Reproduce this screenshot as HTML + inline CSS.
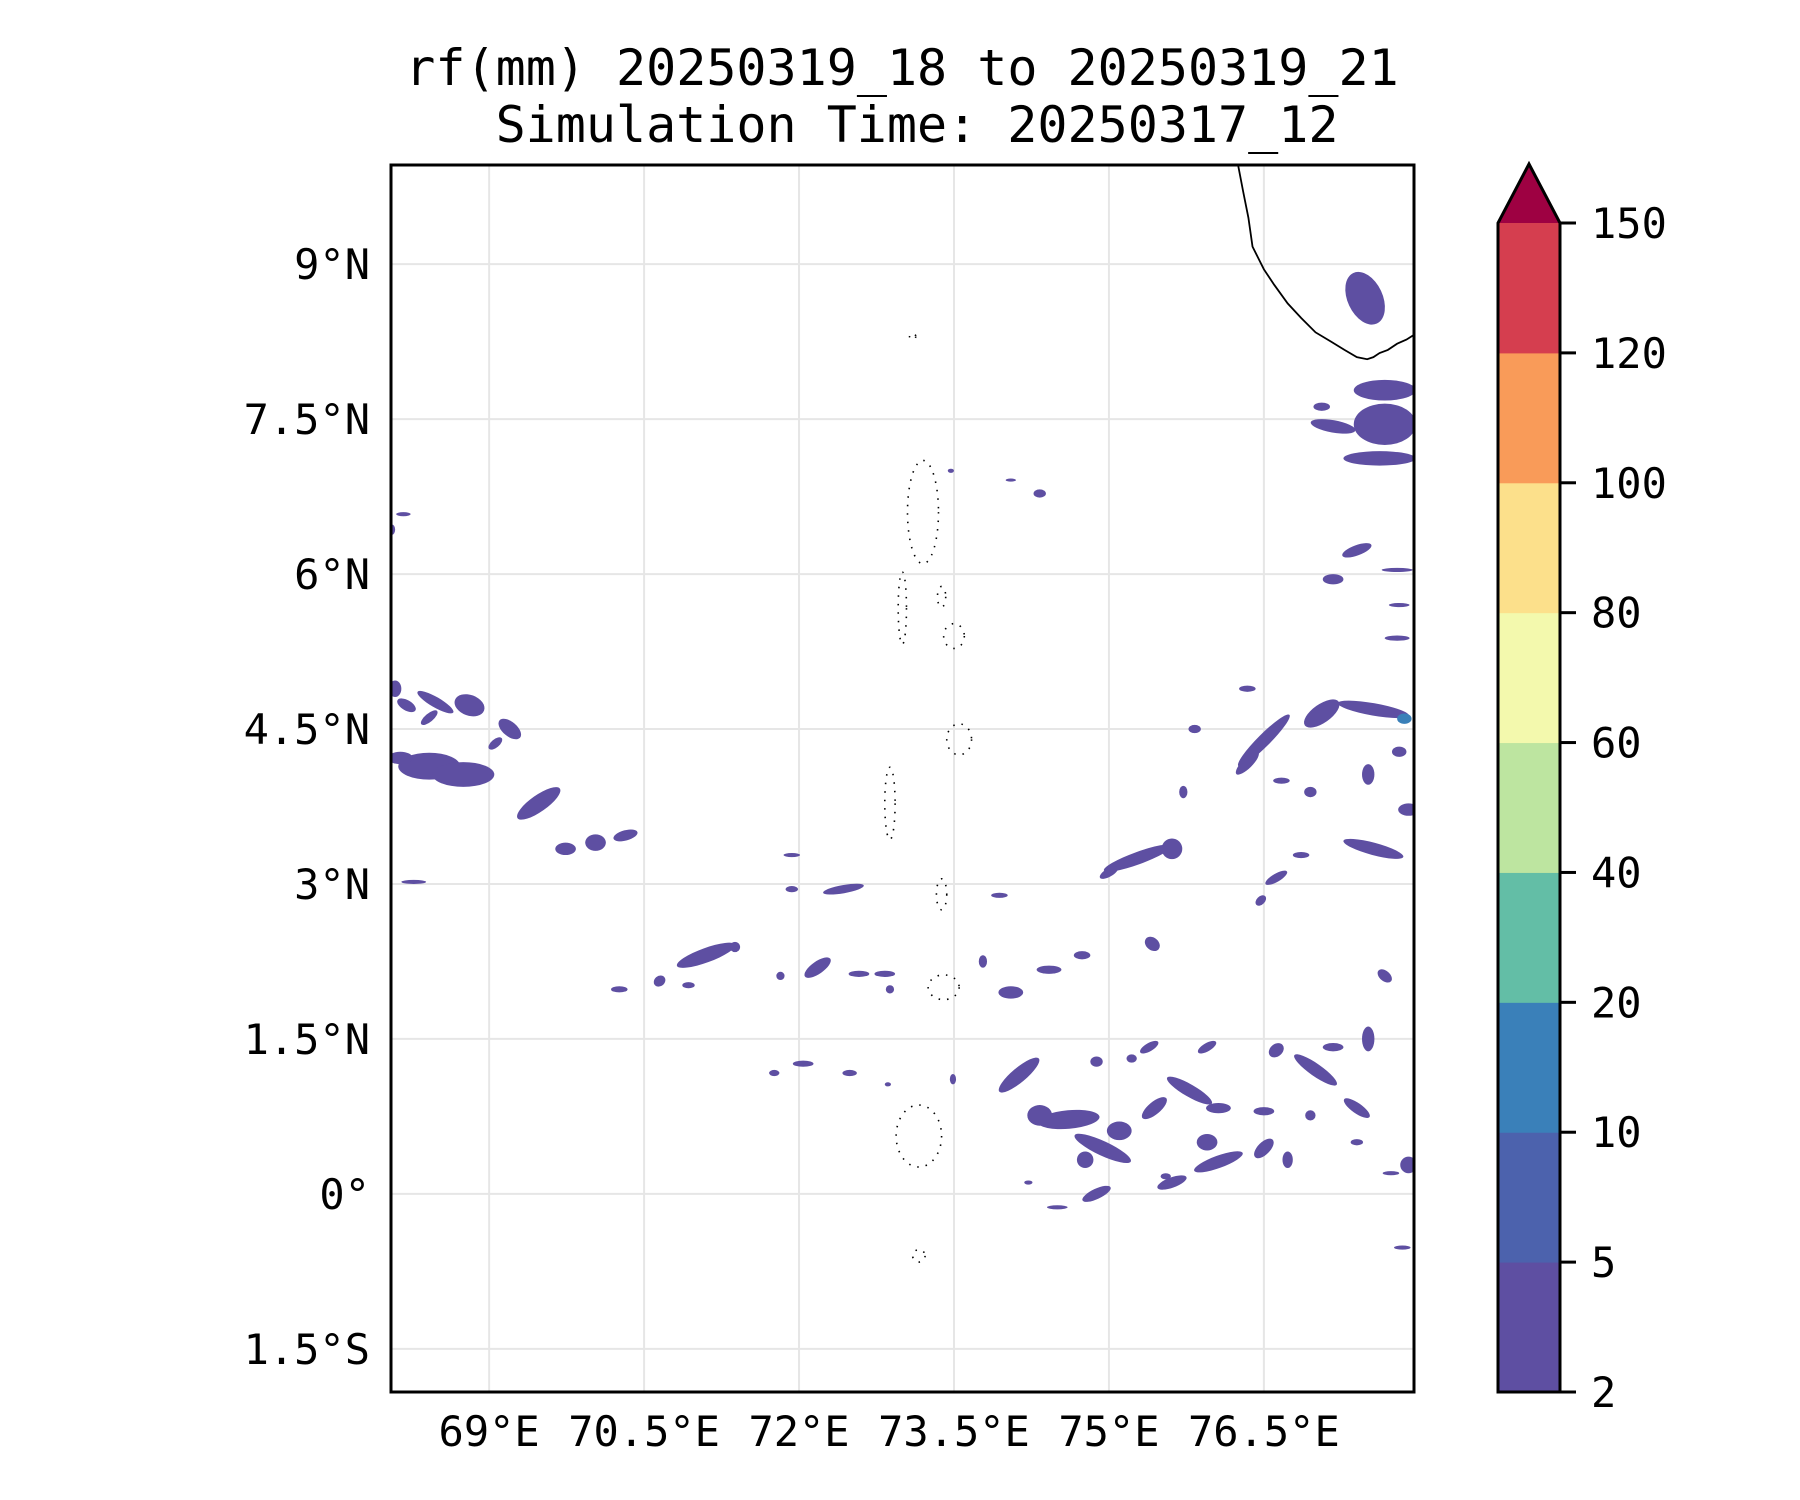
<!DOCTYPE html>
<html><head><meta charset="utf-8"><style>
html,body{margin:0;padding:0;background:#fff;}
svg{display:block;font-family:"DejaVu Sans Mono","Liberation Mono",monospace;}
</style></head><body>
<svg id="chart" width="1800" height="1500" viewBox="0 0 1800 1500" xmlns="http://www.w3.org/2000/svg">
<text x="902" y="85" font-size="50" text-anchor="middle">rf(mm) 20250319_18 to 20250319_21</text>
<text x="917" y="142" font-size="50" text-anchor="middle">Simulation Time: 20250317_12</text>
<g id="grid"></g>
<g id="rain"></g>
<g id="land"></g>
<rect x="391" y="165" width="1023" height="1227" fill="none" stroke="#000" stroke-width="3"/>
<g id="axes"></g>
<g id="cbar"></g>
</svg>
<script>
// ---- data ----
const lonTicks = [69, 70.5, 72, 73.5, 75, 76.5];
const lonTickLabels = ["69°E", "70.5°E", "72°E", "73.5°E", "75°E", "76.5°E"];
const latTicks = [9, 7.5, 6, 4.5, 3, 1.5, 0, -1.5];
const latTickLabels = ["9°N", "7.5°N", "6°N", "4.5°N", "3°N", "1.5°N", "0°", "1.5°S"];
const cbarLevels = [2, 5, 10, 20, 40, 60, 80, 100, 120, 150];
const cbarColors = ["#5e4fa2", "#4c62ad", "#3a80b9", "#63bea6", "#bde5a0", "#f3f9ad", "#fce08b", "#f99b59", "#d53e4f"];
const cbarExtendColor = "#9e0142";
// rain cells: [lon, lat, half-width deg, half-height deg, rotation deg]
const rainCells = [
[77.48,8.67,.17,.27,-25],[77.67,7.78,.3,.1,0],[77.67,7.45,.3,.2,0],[77.17,7.43,.22,.06,10],[77.62,7.12,.35,.07,0],[77.06,7.62,.08,.04,0],
[68.42,4.14,.3,.13,0],[68.75,4.06,.3,.12,0],[68.14,4.22,.12,.06,0],[68.2,4.73,.1,.05,30],[68.48,4.76,.2,.05,30],[68.81,4.73,.15,.1,20],
[68.42,4.61,.1,.04,-40],[69.2,4.5,.13,.07,40],[69.06,4.36,.08,.04,-40],[68.09,4.89,.06,.08,0],[69.48,3.78,.25,.08,-35],[69.74,3.34,.1,.06,0],
[70.03,3.4,.1,.08,0],[70.32,3.47,.12,.05,-15],[68.17,6.58,.07,.02,0],[68.06,6.43,.03,.05,0],[68.27,3.02,.12,.02,0],
[77.06,4.65,.2,.09,-35],[77.56,4.69,.35,.06,10],[76.5,4.39,.35,.06,-45],[76.34,4.17,.15,.05,-45],[76.34,4.89,.08,.03,0],
[77.56,3.34,.3,.06,15],[77.4,6.23,.15,.05,-20],[77.17,5.95,.1,.05,0],[77.79,6.04,.15,.02,0],[77.81,5.70,.1,.02,0],[77.79,5.38,.12,.025,0],
[77.9,3.72,.1,.06,0],[77.51,4.06,.06,.1,0],[77.81,4.28,.07,.05,0],[76.95,3.89,.06,.05,0],[76.67,4.0,.08,.03,0],[75.83,4.5,.06,.04,0],[75.72,3.89,.04,.06,0],
[75.28,3.25,.35,.06,-20],[75.61,3.34,.1,.1,0],[75.0,3.11,.1,.04,-30],[72.43,2.95,.2,.04,-10],[71.93,2.95,.06,.03,0],[71.93,3.28,.08,.02,0],
[76.62,3.06,.12,.04,-30],[76.86,3.28,.08,.03,0],[76.47,2.84,.06,.04,-45],[73.94,2.89,.08,.025,0],
[71.1,2.31,.3,.07,-20],[71.38,2.39,.05,.05,0],[70.65,2.06,.06,.05,-40],[70.93,2.02,.06,.03,0],[70.26,1.98,.08,.03,0],[72.18,2.19,.15,.06,-35],
[72.58,2.13,.1,.03,0],[72.83,2.13,.1,.03,0],[74.05,1.95,.12,.06,0],[74.42,2.17,.12,.04,0],[74.74,2.31,.08,.04,0],[75.42,2.42,.08,.06,40],
[73.78,2.25,.04,.06,0],[71.82,2.11,.04,.04,0],[72.88,1.98,.04,.04,0],
[74.13,1.15,.25,.07,-40],[74.61,0.72,.3,.09,-5],[74.33,0.76,.12,.1,0],[74.94,0.44,.3,.07,25],[74.77,0.33,.08,.08,0],[75.1,0.61,.12,.09,0],
[75.44,0.83,.15,.06,-40],[75.78,1.0,.25,.06,30],[76.06,0.83,.12,.05,0],[76.06,0.31,.25,.06,-20],[75.95,0.5,.1,.08,0],[76.5,0.8,.1,.04,0],
[76.5,0.44,.12,.06,-45],[77.0,1.2,.25,.06,35],[77.4,0.83,.15,.05,35],[77.51,1.5,.06,.12,0],[77.67,2.11,.08,.05,40],[77.9,0.28,.08,.08,0],
[75.61,0.11,.15,.05,-20],[74.88,0.0,.15,.05,-25],[74.5,-0.13,.1,.02,0],[75.39,1.42,.1,.04,-30],[75.95,1.42,.1,.04,-30],[76.62,1.39,.08,.06,-40],
[77.17,1.42,.1,.04,0],[76.73,0.33,.05,.08,0],[76.95,0.76,.05,.05,0],[77.4,0.5,.06,.03,0],[77.73,0.2,.08,.02,0],[77.84,-0.52,.08,.02,0],
[74.88,1.28,.06,.05,0],[75.22,1.31,.05,.04,0],[75.55,0.17,.05,.03,0],[72.04,1.26,.1,.03,0],[72.49,1.17,.07,.03,0],[71.76,1.17,.05,.03,0],
[73.49,1.11,.03,.05,0],[72.86,1.06,.03,.02,0],[74.22,0.11,.04,.02,0],[74.05,6.91,.05,.015,0],[74.33,6.78,.06,.04,0],[73.47,7.0,.03,.02,0]
];
// heavier cells (10-20 mm)
const heavyCells = [[77.86,4.6,.07,.05,0]];
// coastline (India tip)
const coastLon = [76.25,76.3,76.35,76.39,76.45,76.5,76.6,76.73,76.86,77.0,77.15,77.28,77.4,77.5,77.56,77.62,77.7,77.79,77.88,77.96];
const coastLat = [9.96,9.7,9.45,9.17,9.05,8.95,8.8,8.62,8.48,8.34,8.25,8.17,8.1,8.08,8.1,8.14,8.17,8.23,8.27,8.32];
// atolls: [lon, lat, rx, ry]
const atolls = [[73.2,6.6,.15,.5],[73.38,5.78,.04,.1],[73.0,5.67,.04,.35],[73.5,5.4,.1,.12],[73.55,4.4,.12,.15],[72.88,3.78,.05,.35],
[73.38,2.9,.05,.15],[73.4,2.0,.15,.12],[73.16,0.56,.22,.3],[73.16,-0.6,.06,.06],[73.1,8.3,.03,.03]];

// ---- axis functions ----
const X0=391, X1=1414, Y0=165, Y1=1392;
const LON0=68.05, LAT1=9.96, PPD=103.3;
const xS = lon => X0 + (lon-LON0)*PPD;
const yS = lat => Y0 + (LAT1-lat)*PPD;
const NS="http://www.w3.org/2000/svg";
function mk(tag, attrs, parent){const e=document.createElementNS(NS,tag);for(const k in attrs)e.setAttribute(k,attrs[k]);parent.appendChild(e);return e;}

const grid=document.getElementById('grid');
lonTicks.forEach(v=>{
  const l=mk('line',{x1:xS(v),x2:xS(v),y1:Y0,y2:Y1,stroke:'#e6e6e6','stroke-width':2},grid);
  
  
});
latTicks.forEach(v=>{
  const l=mk('line',{x1:X0,x2:X1,y1:yS(v),y2:yS(v),stroke:'#e6e6e6','stroke-width':2},grid);
  
  
});

const rain=document.getElementById('rain');
const clip=mk('clipPath',{id:'mapclip'},mk('defs',{},document.getElementById('chart')));
mk('rect',{x:X0,y:Y0,width:X1-X0,height:Y1-Y0},clip);
rain.setAttribute('clip-path','url(#mapclip)');
function drawCells(arr,color,name){
  arr.forEach(c=>{
    const cx=xS(c[0]), cy=yS(c[1]);
    const e=mk('ellipse',{cx:cx,cy:cy,rx:c[2]*PPD,ry:c[3]*PPD,fill:color,transform:`rotate(${c[4]} ${cx} ${cy})`},rain);
    
    
  });
}
drawCells(rainCells,cbarColors[0],'rain-cell');
drawCells(heavyCells,cbarColors[2],'rain-cell-heavy');

const land=document.getElementById('land');
land.setAttribute('clip-path','url(#mapclip)');
const coast=mk('polyline',{points:coastLon.map((v,i)=>xS(v)+','+yS(coastLat[i])).join(' '),fill:'none',stroke:'#000','stroke-width':1.8},land);


atolls.forEach(a=>{
  const e=mk('ellipse',{cx:xS(a[0]),cy:yS(a[1]),rx:a[2]*PPD,ry:a[3]*PPD,fill:'none',stroke:'#000','stroke-width':1.6,'stroke-dasharray':'1.5 7'},land);
  
  
});

const axes=document.getElementById('axes');
lonTicks.forEach((v,i)=>{
  const t=mk('text',{x:xS(v),y:1446,'font-size':42,'text-anchor':'middle'},axes);
  t.textContent=lonTickLabels[i];
  
  
});
latTicks.forEach((v,i)=>{
  const t=mk('text',{x:370,y:yS(v)+15,'font-size':42,'text-anchor':'end'},axes);
  t.textContent=latTickLabels[i];
  
  
});

// colorbar
const cb=document.getElementById('cbar');
const CX0=1498, CX1=1560, CT=223, CB=1392, n=cbarColors.length, seg=(CB-CT)/n;
cbarColors.forEach((c,i)=>{
  const r=mk('rect',{x:CX0,y:CB-(i+1)*seg,width:CX1-CX0,height:seg+0.5,fill:c},cb);
  
  
});
const tri=mk('polygon',{points:`${CX0},${CT} ${CX1},${CT} ${(CX0+CX1)/2},164`,fill:cbarExtendColor},cb);


const out=mk('polygon',{points:`${CX0},${CB} ${CX0},${CT} ${(CX0+CX1)/2},164 ${CX1},${CT} ${CX1},${CB}`,fill:'none',stroke:'#000','stroke-width':3},cb);


cbarLevels.forEach((v,i)=>{
  const y=CB-i*seg;
  const tk=mk('line',{x1:CX1,x2:CX1+16,y1:y,y2:y,stroke:'#000','stroke-width':3},cb);
  
  
  const t=mk('text',{x:1591,y:y+15,'font-size':42},cb);
  t.textContent=v;
  
  
});
</script>
</body></html>
